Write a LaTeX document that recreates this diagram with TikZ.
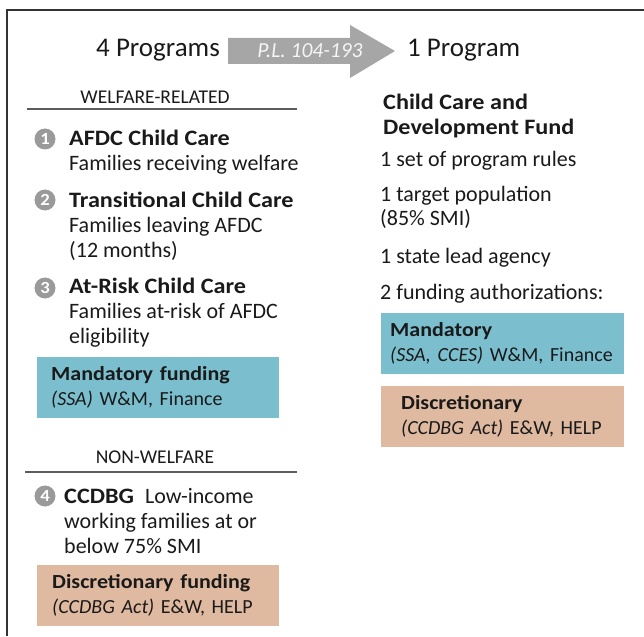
\documentclass[tikz,border=0pt]{standalone}
\usepackage{fontspec}
\setmainfont{Carlito}[BoldFeatures={FakeStretch=1.1}]
\usetikzlibrary{positioning}
\definecolor{ink}{HTML}{1A1A1A}
\definecolor{mandblue}{HTML}{7BBFCF}
\definecolor{disctan}{HTML}{DFB9A0}
\definecolor{arrowgray}{HTML}{A6A6A6}
\definecolor{dotgray}{HTML}{9A9A9A}
\definecolor{framegray}{HTML}{333333}

\begin{document}
\begin{tikzpicture}[x=1pt, y=-1pt,
    txt/.style={anchor=base west, inner sep=0pt, align=left, text=ink,
                font=\fontsize{22}{25}\selectfont},
    big/.style={inner sep=0pt, text=ink, font=\fontsize{27}{27}\selectfont},
    head/.style={anchor=base, inner sep=0pt, text=ink, font=\fontsize{19.5}{20}\selectfont},
    numdot/.style={circle, fill=dotgray, text=white, minimum size=21pt, inner sep=0pt,
                   font=\bfseries\fontsize{17}{17}\selectfont},
    fundbox/.style={anchor=north west, minimum height=61pt, inner ysep=0pt, align=left,
                    text=ink, font=\fontsize{20}{25}\selectfont},
    divider/.style={draw=framegray!80, line width=1.5pt}]
    \useasboundingbox (0,0) rectangle (644,636);

    % frame, cut off at the right and bottom
    \draw [framegray, line width=2pt] (7,636) -- (7,10) -- (644,10);

    % 4 programs -> 1 program
    \node (four) [big, anchor=base east] at (220,57) {4 Programs};
    \fill [arrowgray] (228,38) -- (350,38) -- (350,25) -- (395,51)
        -- (350,78) -- (350,64) -- (228,64) -- cycle;
    \node (law) [inner sep=0pt, text=white!92!gray, font=\itshape\fontsize{21.5}{21.5}\selectfont]
        at (310,51) {P.L. 104-193};
    \node (one) [big, anchor=base west] at (407,57) {1 Program};

    % welfare-related programs (multi-line nodes sit on their last baseline)
    \node (welfare) [head] at (155,104) {WELFARE-RELATED};
    \draw [divider] (27,109) -- (297,109);

    \node (n1) [numdot] at (45,139) {1};
    \node (afdc) [txt] at (69,171) {\textbf{AFDC Child Care}\\Families receiving welfare};
    \node (n2) [numdot] at (45,200) {2};
    \node (trans) [txt] at (69,257) {\textbf{Transitional Child Care}\\Families leaving AFDC\\(12 months)};
    \node (n3) [numdot] at (45,288) {3};
    \node (risk) [txt] at (69,343) {\textbf{At-Risk Child Care}\\Families at-risk of AFDC\\eligibility};

    \node (mandL) [fundbox, fill=mandblue, inner xsep=14pt, text width=214pt] at (37,357)
        {\textbf{Mandatory funding}\\\textit{(SSA)} W\&M, Finance};

    % non-welfare program
    \node (nonwelfare) [head] at (155,463) {NON-WELFARE};
    \draw [divider] (25,472) -- (297,472);

    \node (n4) [numdot] at (45,496) {4};
    \node (ccdbg) [txt] at (64,553) {\textbf{CCDBG}\enspace Low-income\\working families at or\\below 75\% SMI};

    \node (discL) [fundbox, fill=disctan, inner xsep=15pt, text width=212pt] at (37,565)
        {\textbf{Discretionary funding}\\\textit{(CCDBG Act)} E\&W, HELP};

    % the one program
    \node (ccdf) [txt] at (383,135) {\textbf{Child Care and}\\\textbf{Development Fund}};
    \node (rules) [txt] at (380,167) {1 set of program rules};
    \node (target) [txt, font=\fontsize{22}{23}\selectfont] at (380,225) {1 target population\\(85\% SMI)};
    \node (agency) [txt] at (380,263) {1 state lead agency};
    \node (auth) [txt] at (380,299) {2 funding authorizations:};

    \node (mandR) [fundbox, fill=mandblue, inner xsep=9pt, text width=225pt] at (381,313)
        {\textbf{Mandatory}\\\textit{(SSA, CCES)} W\&M, Finance};
    \node (discR) [fundbox, fill=disctan, inner xsep=20pt, text width=203pt] at (381,386)
        {\textbf{Discretionary}\\\textit{(CCDBG Act)} E\&W, HELP};
\end{tikzpicture}
\end{document}
